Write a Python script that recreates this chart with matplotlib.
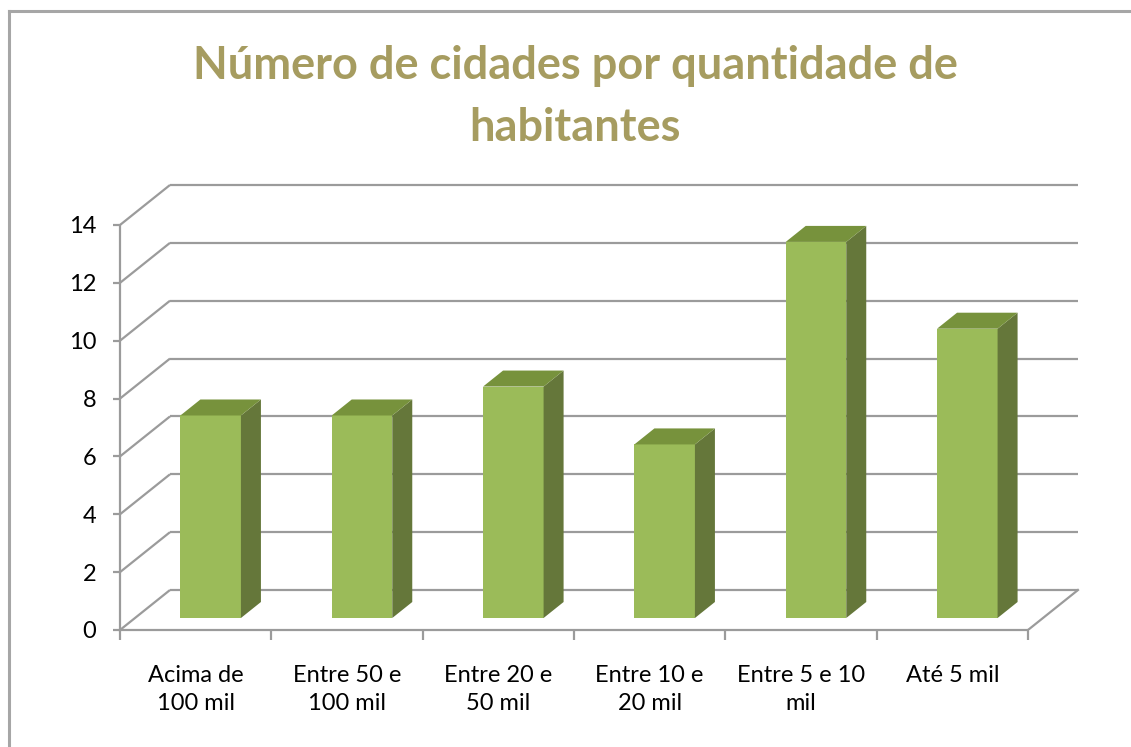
import matplotlib.pyplot as plt
from matplotlib.lines import Line2D
from matplotlib.patches import Polygon

categories = ["Acima de\n100 mil", "Entre 50 e\n100 mil", "Entre 20 e\n50 mil",
              "Entre 10 e\n20 mil", "Entre 5 e 10\nmil", "Até 5 mil"]
values = [7, 7, 8, 6, 13, 10]
y_ticks = [0, 2, 4, 6, 8, 10, 12, 14]
title = "Número de cidades por quantidade de\nhabitantes"

W, H = 1131, 747
# pixel geometry of the front plane
X0, Y0 = 120, 630          # origin (px from left / top)
PX_CAT, PX_UNIT = 151.33, 28.93
# oblique depth offset (data units) for the full depth of the walls
OX, OY = 50 / PX_CAT, 40 / PX_UNIT

GRID = "#9b9b9b"
FRONT, SIDE, TOP = "#9bbb59", "#65773a", "#77923c"
TITLE_C = "#a69c60"

plt.rcParams["font.family"] = ["Lato", "DejaVu Sans"]

fig = plt.figure(figsize=(W / 100, H / 100), dpi=100, facecolor="white")
xmax, ymax = 6.5, 15.6
ax = fig.add_axes([X0 / W, (H - Y0) / H, xmax * PX_CAT / W, ymax * PX_UNIT / H])
ax.set_xlim(0, xmax)
ax.set_ylim(0, ymax)
ax.patch.set_visible(False)

n = len(categories)


def proj(x, y, d):
    return x + d * OX, y + d * OY


# walls: left diagonals + back horizontal gridlines
for t in y_ticks:
    (bx0, by0) = proj(0, t, 1)
    (bx1, by1) = proj(n, t, 1)
    ax.plot([0, bx0], [t, by0], color=GRID, lw=1.6, zorder=1, solid_capstyle="butt")
    ax.plot([bx0, bx1], [by0, by1], color=GRID, lw=1.6, zorder=1, solid_capstyle="butt")
# floor right edge
fx, fy = proj(n, 0, 1)
ax.plot([n, fx], [0, fy], color=GRID, lw=1.6, zorder=1)

# bars: depth from 0.3 to 0.7, width 0.4 category
bw, d0, d1 = 0.4, 0.3, 0.7
for i, v in enumerate(values):
    xl, yb = proj(i + 0.5 - bw / 2, 0, d0)
    ax.bar(xl, v, width=bw, bottom=yb, align="edge", color=FRONT, zorder=3)
    xr = xl + bw
    dx, dy = (d1 - d0) * OX, (d1 - d0) * OY
    ax.add_patch(Polygon([(xr, yb), (xr + dx, yb + dy), (xr + dx, yb + v + dy), (xr, yb + v)],
                         closed=True, facecolor=SIDE, edgecolor="none", zorder=3))
    ax.add_patch(Polygon([(xl, yb + v), (xr, yb + v), (xr + dx, yb + v + dy), (xl + dx, yb + v + dy)],
                         closed=True, facecolor=TOP, edgecolor="none", zorder=3))

# axes spines as the front axes
for s in ["top", "right"]:
    ax.spines[s].set_visible(False)
ax.spines["left"].set_bounds(0, 14)
ax.spines["bottom"].set_bounds(0, n)
for s in ["left", "bottom"]:
    ax.spines[s].set_color(GRID)
    ax.spines[s].set_linewidth(1.6)

ax.set_yticks(y_ticks)
ax.set_yticklabels([str(t) for t in y_ticks])
ax.tick_params(axis="y", direction="out", length=5, width=1.6, color=GRID,
               labelsize=17, pad=12, labelcolor="black")
ax.set_xticks(range(n + 1))
ax.set_xticklabels([])
ax.tick_params(axis="x", which="major", direction="out", length=7, width=1.6, color=GRID)
ax.set_xticks([i + 0.5 for i in range(n)], minor=True)
ax.set_xticklabels(categories, minor=True)
ax.tick_params(axis="x", which="minor", length=0, labelsize=17, pad=25, labelcolor="black")
for lab in ax.get_xticklabels(minor=True):
    lab.set_linespacing(1.45)

fig.text(575 / W, 1 - 97 / H, title, ha="center", va="center", fontsize=32.5,
         fontweight="bold", color=TITLE_C, linespacing=1.6)

# chart border (top and left edges visible)
fig.add_artist(Line2D([9 / W, 1], [1 - 11 / H, 1 - 11 / H], transform=fig.transFigure,
                      color="#a6a6a6", lw=2.2))
fig.add_artist(Line2D([9 / W, 9 / W], [0, 1 - 11 / H], transform=fig.transFigure,
                      color="#a6a6a6", lw=2.2))

fig.savefig("out.png", dpi=100, facecolor="white")
